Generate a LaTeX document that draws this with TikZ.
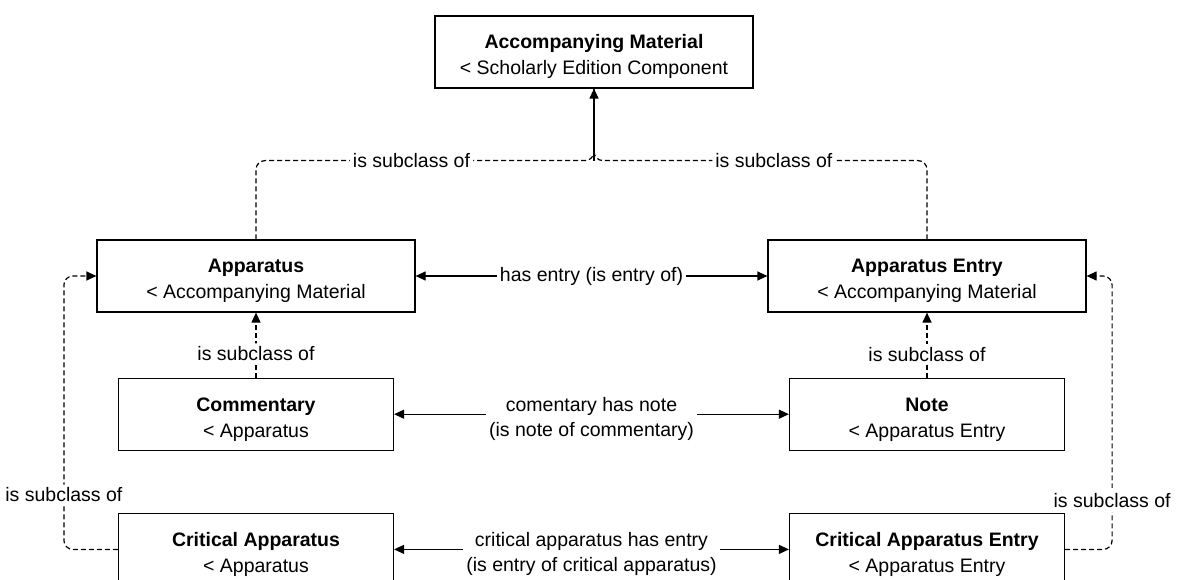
\documentclass[tikz,border=0pt]{standalone}
\usepackage{fontspec}
\setmainfont{Liberation Sans}
\usetikzlibrary{positioning,arrows.meta}

% two-line class text: bold name, then its parent
\newcommand{\clstext}[2]{\rule{0pt}{24pt}\textbf{#1}\\< #2}

\tikzset{
  cls/.style={draw, line width=1.2pt, minimum height=72pt, inner sep=0pt,
    align=center, font=\fontsize{19.5}{26}\selectfont},
  rel/.style={fill=white, inner sep=3pt, align=center,
    font=\fontsize{19.5}{25}\selectfont},
  link/.style={line width=1.2pt,
    {Triangle[length=10pt,width=9pt]}-{Triangle[length=10pt,width=9pt]}},
  subline/.style={line width=1.2pt, dash pattern=on 5pt off 3pt,
    rounded corners=9pt},
  sub/.style={subline, -{Triangle[length=10pt,width=9pt]}},
}

\begin{document}
\begin{tikzpicture}[x=1pt,y=-1pt]
  \useasboundingbox (0,0) rectangle (1178,580);

  % classes
  \node[cls, minimum width=318pt] (accmat) at (594,52)
    {\clstext{Accompanying Material}{Scholarly Edition Component}};
  \node[cls, minimum width=318pt] (app) at (256,276)
    {\clstext{Apparatus}{Accompanying Material}};
  \node[cls, minimum width=318pt] (appentry) at (927,276)
    {\clstext{Apparatus Entry}{Accompanying Material}};
  \node[cls, minimum width=275pt, below=65pt of app] (comm)
    {\clstext{Commentary}{Apparatus}};
  \node[cls, minimum width=275pt, below=65pt of appentry] (note)
    {\clstext{Note}{Apparatus Entry}};
  \node[cls, minimum width=275pt, below=62pt of comm] (critapp)
    {\clstext{Critical Apparatus}{Apparatus}};
  \node[cls, minimum width=275pt, below=62pt of note] (critentry)
    {\clstext{Critical Apparatus Entry}{Apparatus Entry}};

  % both subclass edges meet here
  \coordinate[below=72pt of accmat] (join);

  \draw[subline] (app.north) |- node[rel, pos=0.73] (lblapp) {is subclass of} (join) -- (accmat.south);
  \draw[subline] (appentry.north) |- node[rel, pos=0.73] (lblentry) {is subclass of} (join) -- (accmat.south);
  \draw[line width=1.2pt, -{Triangle[length=10pt,width=9pt]}] (join) -- (accmat.south);

  % associations
  \draw[link] (app) -- node[rel] (lblhas) {has entry (is entry of)} (appentry);
  \draw[link] (comm) -- node[rel] (lblnote)
    {\rule{0pt}{24pt}comentary has note\\(is note of commentary)} (note);
  \draw[link] (critapp) -- node[rel] (lblcrit)
    {\rule{0pt}{24pt}critical apparatus has entry\\(is entry of critical apparatus)} (critentry);

  % subclass edges
  \draw[sub] (comm.north) -- node[rel, pos=0.37] (lblcomm) {is subclass of} (app.south);
  \draw[sub] (note.north) -- node[rel, pos=0.36] (lblnotesub) {is subclass of} (appentry.south);
  \draw[sub] (critapp.west) -- ++(-54,0) |- node[rel, pos=0.1] (lblcritapp) {is subclass of} (app.west);
  \draw[sub] (critentry.east) -- ++(47,0) |- node[rel, pos=0.09, inner sep=5pt] (lblcritentry) {is subclass of} (appentry.east);
\end{tikzpicture}
\end{document}
